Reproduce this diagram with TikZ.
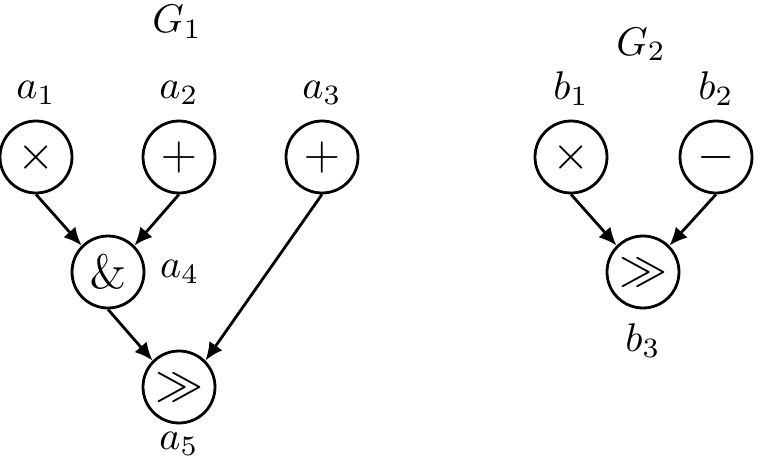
\documentclass[tikz,border=0pt]{standalone}
\usetikzlibrary{arrows.meta, positioning}

\begin{document}
\begin{tikzpicture}[
      x=0.25pt, y=-0.25pt,
      op/.style={circle, draw, line width=0.7pt, minimum size=18pt, inner sep=0pt, font=\large},
      lbl/.style={inner sep=0pt},
      arrow/.style={-{Latex[length=4.5pt,width=4pt]}, line width=0.7pt}
    ]
    \useasboundingbox (0,0) rectangle (762,471);

    % graph G1
    \node[lbl, anchor=base] (g1) at (177,33) {$G_1$};
    \node[op] (a1) at (36,157) {$\times$};
    \node[op] (a2) at (179,157) {$+$};
    \node[op] (a3) at (322,157) {$+$};
    \node[op] (a4) at (108,272) {$\&$};
    \node[op] (a5) at (179,387) {$\gg$};

    \node[lbl, above=3.6pt of a1] (la1) {$a_1$};
    \node[lbl, above=3.6pt of a2] (la2) {$a_2$};
    \node[lbl, above=3.6pt of a3] (la3) {$a_3$};
    \node[lbl, right=3.5pt of a4] (la4) {$a_4$};
    \node[lbl, below=1.8pt of a5] (la5) {$a_5$};

    \draw[arrow] (a1.south) -- (a4.north west);
    \draw[arrow] (a2.south) -- (a4.north east);
    \draw[arrow] (a4.south) -- (a5.north west);
    \draw[arrow] (a3.south) -- (a5.north east);

    % graph G2
    \node[lbl, anchor=base] (g2) at (641,55) {$G_2$};
    \node[op] (b1) at (571,157) {$\times$};
    \node[op] (b2) at (716,157) {$-$};
    \node[op] (b3) at (643,272) {$\gg$};

    \node[lbl, above=3.4pt of b1] (lb1) {$b_1$};
    \node[lbl, above=3.4pt of b2] (lb2) {$b_2$};
    \node[lbl, below=3.4pt of b3] (lb3) {$b_3$};

    \draw[arrow] (b1.south) -- (b3.north west);
    \draw[arrow] (b2.south) -- (b3.north east);
  \end{tikzpicture}
\end{document}
